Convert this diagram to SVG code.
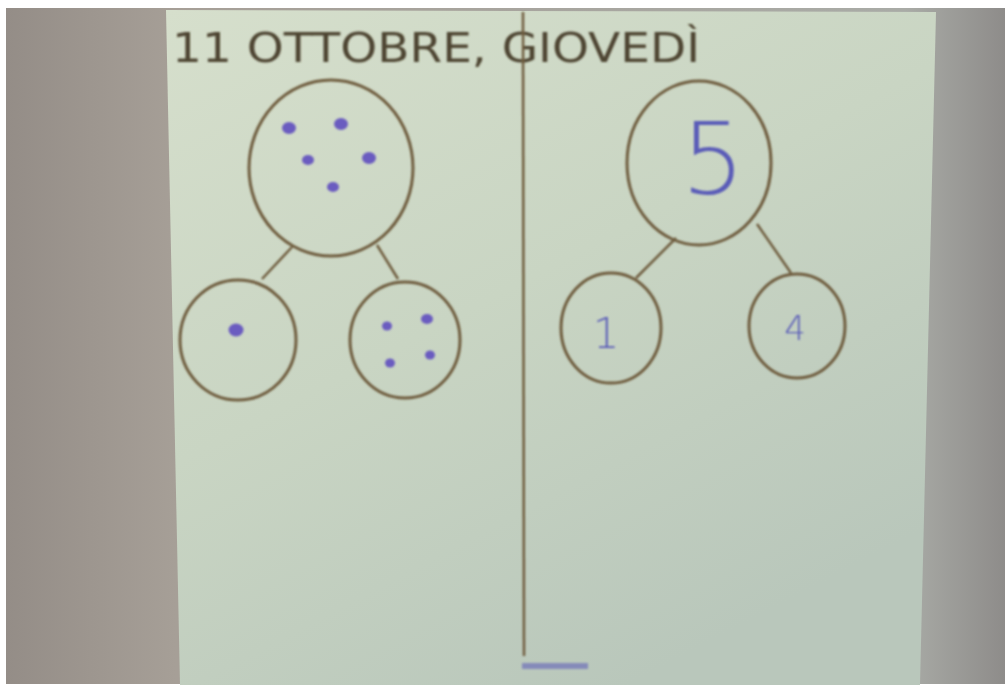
<svg xmlns="http://www.w3.org/2000/svg" width="1005" height="690" viewBox="0 0 1005 690">
<defs>
<linearGradient id="bg" x1="0" y1="0" x2="1" y2="0">
<stop offset="0" stop-color="#948d87"/><stop offset="0.17" stop-color="#a69f97"/><stop offset="0.9" stop-color="#a9aba6"/><stop offset="1" stop-color="#8e8c8a"/>
</linearGradient>
<linearGradient id="board" x1="0" y1="0" x2="0.6" y2="1">
<stop offset="0" stop-color="#d6dfcc"/><stop offset="0.5" stop-color="#c9d5c3"/><stop offset="1" stop-color="#b9c7bb"/>
</linearGradient>
<filter id="blur"><feGaussianBlur stdDeviation="0.8"/></filter>
</defs>
<style>
.ring{fill:none;stroke:#6e5c3e;stroke-width:3}
.line{stroke:#6e5c3e;stroke-width:2.5;fill:none}
.dot{fill:#6a5cc0}
.num{font-family:"DejaVu Sans",sans-serif;fill:#5a5cb8;text-anchor:middle}
.title{font-family:"DejaVu Sans",sans-serif;fill:#4e4430;font-size:40px;font-weight:400}
</style>
<rect width="1005" height="690" fill="#ffffff"/>
<rect x="6" y="8" width="999" height="676" fill="url(#bg)"/>
<polygon points="166,10 936,12 920,685 180,685" fill="url(#board)"/>
<g filter="url(#blur)">
<text class="title" x="172" y="62" textLength="528" lengthAdjust="spacingAndGlyphs">11 OTTOBRE, GIOVEDÌ</text>
<g id="divider"><line class="line" x1="523" y1="12" x2="524" y2="656"/></g>
<g id="connectors">
<line class="line" x1="292" y1="247" x2="262" y2="279"/>
<line class="line" x1="377" y1="245" x2="398" y2="279"/>
<line class="line" x1="676" y1="238" x2="636" y2="278"/>
<line class="line" x1="757" y1="224" x2="791" y2="273"/>
</g>
<g id="dots5"><ellipse class="ring" cx="331" cy="168" rx="82" ry="88"/>
<ellipse class="dot" cx="289" cy="128" rx="7" ry="6"/><ellipse class="dot" cx="341" cy="124" rx="7" ry="6"/><ellipse class="dot" cx="308" cy="160" rx="6" ry="5"/><ellipse class="dot" cx="369" cy="158" rx="7" ry="6"/><ellipse class="dot" cx="333" cy="187" rx="6" ry="5"/></g>
<g id="dots1"><ellipse class="ring" cx="238" cy="340" rx="58" ry="60"/><ellipse class="dot" cx="236" cy="330" rx="7.5" ry="6.5"/></g>
<g id="dots4"><ellipse class="ring" cx="405" cy="340" rx="55" ry="58"/>
<ellipse class="dot" cx="387" cy="326" rx="5" ry="4.5"/><ellipse class="dot" cx="427" cy="319" rx="6" ry="5"/><ellipse class="dot" cx="390" cy="363" rx="5" ry="4.5"/><ellipse class="dot" cx="430" cy="355" rx="5" ry="4.5"/></g>
<g id="n5"><ellipse class="ring" cx="699" cy="163" rx="72" ry="82"/><text class="num" x="713" y="194" font-size="100" font-weight="200">5</text></g>
<g id="n1"><ellipse class="ring" cx="611" cy="328" rx="50" ry="55"/><text class="num" x="606" y="348" font-size="42" font-weight="300">1</text></g>
<g id="n4"><ellipse class="ring" cx="797" cy="326" rx="48" ry="52"/><text class="num" x="795" y="340" font-size="34" font-weight="300">4</text></g>
<rect x="522" y="663" width="66" height="6" fill="#6e70b8" opacity="0.7"/>
</g>
</svg>
